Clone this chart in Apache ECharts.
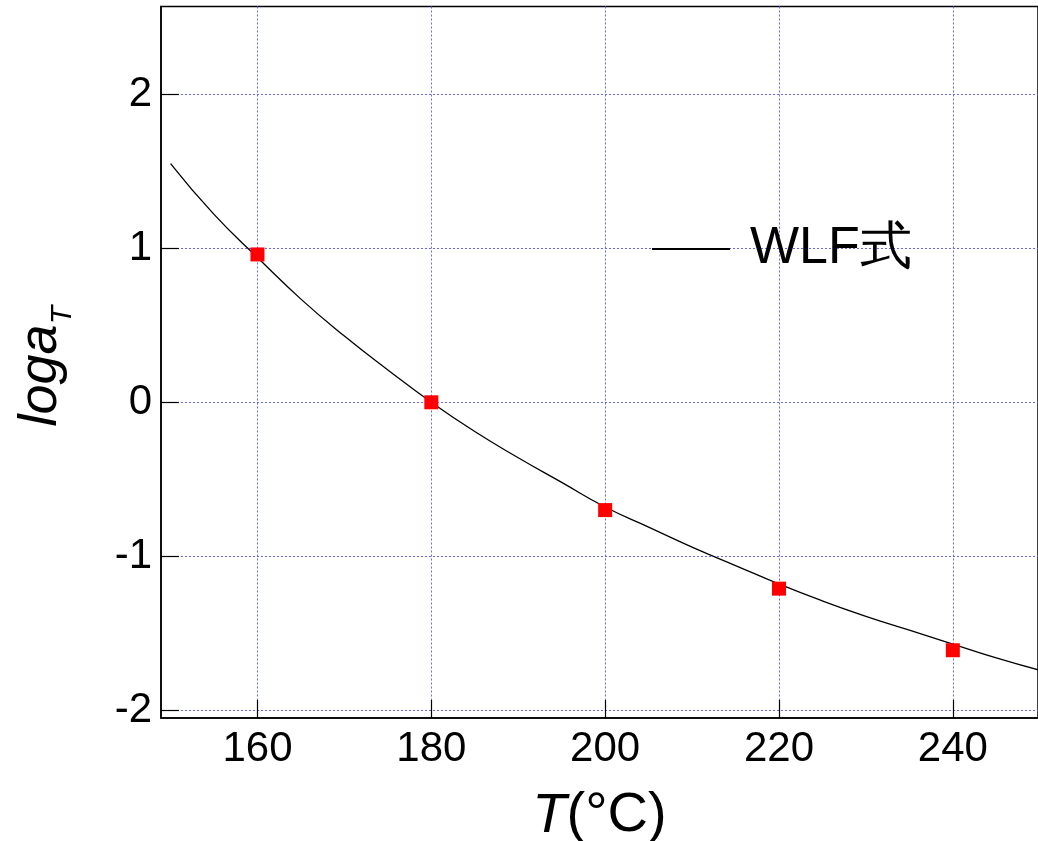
<!DOCTYPE html>
<html lang="ja">
<head>
    <meta charset="UTF-8">
    <title>WLF</title>
    <script src="https://cdn.jsdelivr.net/npm/echarts@6/dist/echarts.min.js"></script>
    <style>
        html, body { margin: 0; padding: 0; background: #fff; }
        #chart { width: 1038px; height: 841px; }
    </style>
</head>
<body>
<div id="chart"></div>
<script>
    // WLF式 曲線
    var curveT = [150, 155, 160, 165, 170, 175, 180, 185, 190, 195, 200, 205, 210, 215, 220, 225, 230, 235, 240, 245, 250];
    var curveLogA = [1.55, 1.22, 0.94, 0.67, 0.43, 0.21, 0, -0.19, -0.36, -0.52, -0.68, -0.81, -0.94, -1.06, -1.18, -1.29, -1.39, -1.48, -1.57, -1.66, -1.74];

    // 測定点
    var pointT = [160, 180, 200, 220, 240];
    var pointLogA = [0.96, 0.0, -0.70, -1.21, -1.61];

    // 目盛
    var xTicks = [160, 180, 200, 220, 240];
    var yTicks = [-2, -1, 0, 1, 2];

    var font = "'Liberation Sans', Arial, Helvetica, sans-serif";

    function pairs(xs, ys) {
        var out = [];
        xs.forEach(function (x, i) { out.push([x, ys[i]]); });
        return out;
    }

    var option = {
        backgroundColor: '#fff',
        animation: false,
        grid: {
            left: 161,
            top: 6.5,
            right: 0,
            bottom: 123,
            outerBoundsMode: 'none',
            containLabel: false,
            show: true,
            borderColor: '#000',
            borderWidth: 1.5
        },
        legend: {
            data: ['WLF式'],
            left: 647,
            top: 218,
            icon: 'rect',
            itemWidth: 78,
            itemHeight: 2,
            itemStyle: { color: '#000' },
            textStyle: {
                color: '#000',
                fontFamily: font,
                fontSize: 52,
                padding: [0, 0, 0, 15]
            }
        },
        xAxis: {
            type: 'value',
            min: 148.9,
            max: 249.8,
            name: '{i|T}{n|(°C)}',
            nameLocation: 'middle',
            nameGap: 70,
            nameTextStyle: {
                rich: {
                    i: { fontFamily: font, fontSize: 56, fontStyle: 'italic', color: '#000' },
                    n: { fontFamily: font, fontSize: 56, color: '#000' }
                }
            },
            axisLine: { onZero: false, lineStyle: { color: '#000', width: 1.5 } },
            axisTick: {
                inside: true,
                length: 18,
                customValues: xTicks,
                lineStyle: { color: '#000', width: 1.2 }
            },
            axisLabel: {
                customValues: xTicks,
                color: '#000',
                fontFamily: font,
                fontSize: 42,
                margin: 10
            },
            splitLine: {
                show: true,
                lineStyle: { color: '#6464ff', type: [2, 2], width: 1 }
            }
        },
        yAxis: {
            type: 'value',
            min: -2.05,
            max: 2.57,
            name: '{i|loga}{s|T}',
            nameLocation: 'middle',
            nameGap: 93,
            nameTextStyle: {
                padding: [0, 8, 0, 0],
                rich: {
                    i: { fontFamily: font, fontSize: 54, fontStyle: 'italic', color: '#000' },
                    s: { fontFamily: font, fontSize: 30, fontStyle: 'italic', color: '#000', verticalAlign: 'bottom', padding: [0, 0, -10, 0] }
                }
            },
            axisLine: { onZero: false, lineStyle: { color: '#000', width: 1.5 } },
            axisTick: {
                inside: true,
                length: 18,
                customValues: yTicks,
                lineStyle: { color: '#000', width: 1.2 }
            },
            axisLabel: {
                customValues: yTicks,
                color: '#000',
                fontFamily: font,
                fontSize: 42,
                margin: 9
            },
            splitLine: {
                show: true,
                lineStyle: { color: '#6464ff', type: [2, 2], width: 1 }
            }
        },
        series: [
            {
                name: 'WLF式',
                type: 'line',
                smooth: true,
                symbol: 'none',
                lineStyle: { color: '#000', width: 1.3 },
                itemStyle: { color: '#000' },
                data: pairs(curveT, curveLogA),
                z: 3
            },
            {
                name: '測定値',
                type: 'scatter',
                symbol: 'rect',
                symbolSize: 14,
                itemStyle: { color: '#ff0000', opacity: 1 },
                data: pairs(pointT, pointLogA),
                z: 4
            }
        ]
    };

    var myChart = echarts.init(document.getElementById('chart'));
    myChart.setOption(option);
</script>
</body>
</html>
